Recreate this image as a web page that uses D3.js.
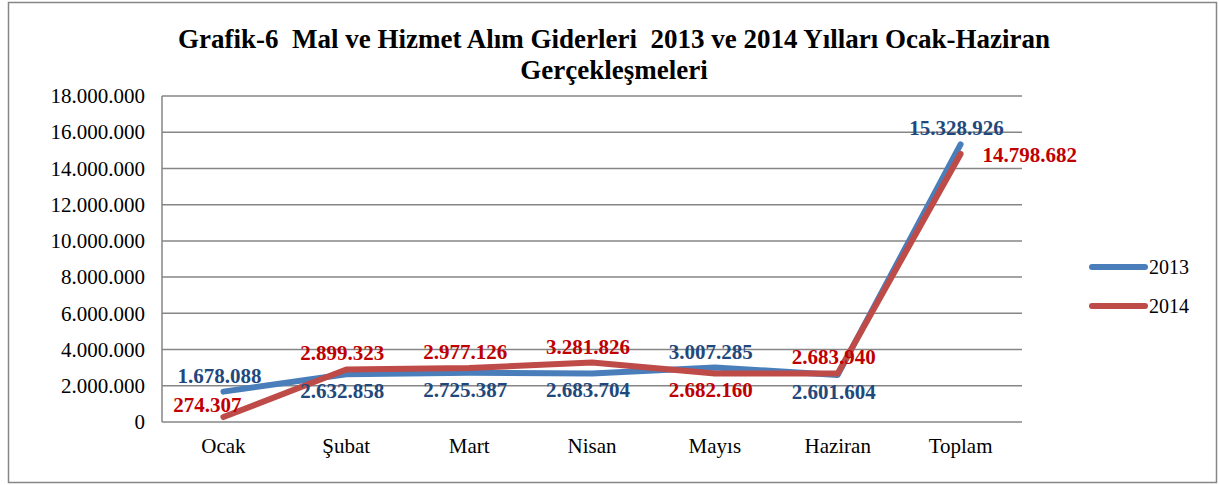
<!DOCTYPE html>
<html>
<head>
<meta charset="utf-8">
<script src="https://cdn.jsdelivr.net/npm/d3@7"></script>
<style>
  body { margin: 0; background: #fff; }
  svg text { font-family: "Liberation Serif", "Times New Roman", serif; }
</style>
</head>
<body>
<script>
// chart data
var categories = ["Ocak", "Şubat", "Mart", "Nisan", "Mayıs", "Haziran", "Toplam"];
var values2013 = [1678088, 2632858, 2725387, 2683704, 3007285, 2601604, 15328926];
var values2014 = [274307, 2899323, 2977126, 3281826, 2682160, 2683940, 14798682];
var yTicks = [0, 2000000, 4000000, 6000000, 8000000, 10000000, 12000000, 14000000, 16000000, 18000000];
var seriesNames = ["2013", "2014"];

// where each data label sits relative to its point
var labelPlace2013 = ["above", "below", "below", "below", "above", "below", "above"];
var labelPlace2014 = ["over", "above", "above", "above", "below", "above", "right"];

var width = 1219, height = 485;
var plot = { left: 162, right: 1022, top: 96, bottom: 422 };
var serif = "'Liberation Serif', 'Times New Roman', serif";

var trLocale = d3.formatLocale({ decimal: ",", thousands: ".", grouping: [3], currency: ["", ""] });
var fmt = trLocale.format(",d");

var svg = d3.select("body").append("svg")
  .attr("width", width)
  .attr("height", height);

// outer frame
svg.append("rect")
  .attr("x", 8.5).attr("y", 2.5)
  .attr("width", 1208).attr("height", 480)
  .attr("fill", "#fff")
  .attr("stroke", "#868686")
  .attr("stroke-width", 1.5);

// title
var title = svg.append("text")
  .attr("text-anchor", "middle")
  .style("font-weight", "bold")
  .style("font-size", "27px")
  .style("white-space", "pre");
title.append("tspan").attr("x", 614).attr("y", 48)
  .text("Grafik-6  Mal ve Hizmet Alım Giderleri  2013 ve 2014 Yılları Ocak-Haziran");
title.append("tspan").attr("x", 614).attr("y", 79)
  .text("Gerçekleşmeleri");

var x = d3.scaleBand()
  .domain(categories)
  .range([plot.left, plot.right]);
var cx = function (c) { return x(c) + x.bandwidth() / 2; };

var y = d3.scaleLinear()
  .domain([0, 18000000])
  .range([plot.bottom, plot.top]);

// gridlines
svg.append("g")
  .selectAll("line")
  .data(yTicks)
  .enter()
  .append("line")
    .attr("x1", plot.left).attr("x2", plot.right)
    .attr("y1", function (d) { return y(d); })
    .attr("y2", function (d) { return y(d); })
    .attr("stroke", "#868686")
    .attr("stroke-width", 1.5);

// left axis line
svg.append("line")
  .attr("x1", plot.left).attr("x2", plot.left)
  .attr("y1", plot.top).attr("y2", plot.bottom)
  .attr("stroke", "#868686")
  .attr("stroke-width", 1.5);

// Y axis labels
var yAxis = svg.append("g")
  .attr("transform", `translate(${plot.left - 17}, 0)`)
  .call(d3.axisLeft(y).tickValues(yTicks).tickSize(0).tickPadding(0).tickFormat(fmt))
  .attr("font-family", serif)
  .attr("font-size", 21);
yAxis.select(".domain").remove();
yAxis.selectAll("text").attr("fill", "#000");

// X axis labels
var xAxis = svg.append("g")
  .attr("transform", `translate(0, ${plot.bottom})`)
  .call(d3.axisBottom(x).tickSize(0).tickPadding(16))
  .attr("font-family", serif)
  .attr("font-size", 21);
xAxis.select(".domain").remove();
xAxis.selectAll("text").attr("fill", "#000");

var line = d3.line()
  .x(function (d, i) { return cx(categories[i]); })
  .y(function (d) { return y(d); });

var series = [
  { values: values2013, place: labelPlace2013, lineColor: "#4A7EBB", textColor: "#1F497D" },
  { values: values2014, place: labelPlace2014, lineColor: "#BE4B48", textColor: "#C00000" }
];

series.forEach(function (s) {
  svg.append("path")
    .datum(s.values)
    .attr("d", line)
    .attr("fill", "none")
    .attr("stroke", s.lineColor)
    .attr("stroke-width", 6)
    .attr("stroke-linejoin", "round")
    .attr("stroke-linecap", "round");
});

series.forEach(function (s) {
  svg.append("g")
    .selectAll("text")
    .data(s.values)
    .enter()
    .append("text")
      .attr("x", function (d, i) {
        var p = s.place[i];
        if (p === "right") return cx(categories[i]) + 22;
        if (p === "over") return cx(categories[i]) - 16;
        return cx(categories[i]) - 4;
      })
      .attr("y", function (d, i) {
        var p = s.place[i];
        if (p === "above") return y(d) - 9;
        if (p === "below") return y(d) + 24;
        if (p === "over") return y(d) - 5;
        return y(d) + 8;
      })
      .attr("text-anchor", function (d, i) { return s.place[i] === "right" ? "start" : "middle"; })
      .style("font-size", "21px")
      .style("font-weight", "bold")
      .attr("fill", s.textColor)
      .text(function (d) { return fmt(d); });
});

// legend
var legend = svg.append("g")
  .selectAll("g")
  .data(seriesNames)
  .enter()
  .append("g")
    .attr("transform", function (d, i) { return `translate(1092, ${267 + i * 39})`; });
legend.append("line")
  .attr("x1", 0).attr("x2", 53)
  .attr("stroke", function (d, i) { return series[i].lineColor; })
  .attr("stroke-width", 6)
  .attr("stroke-linecap", "round");
legend.append("text")
  .attr("x", 57)
  .attr("dy", "0.33em")
  .style("font-size", "20px")
  .text(function (d) { return d; });
</script>
</body>
</html>
